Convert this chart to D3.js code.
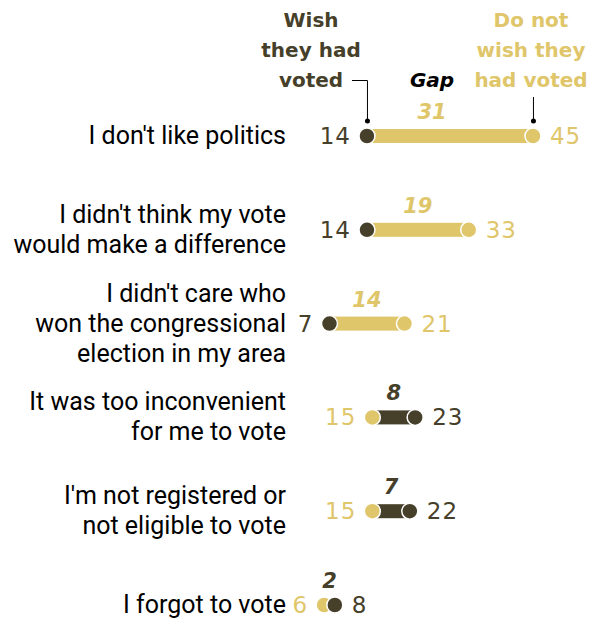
<!DOCTYPE html>
<html><head><meta charset="utf-8">
<script src="https://cdn.jsdelivr.net/npm/d3@7"></script>
<style>body{margin:0;background:#fff}svg{display:block}</style>
</head><body>
<script>
const reasons = [
  ["I don't like politics"],
  ["I didn't think my vote","would make a difference"],
  ["I didn't care who","won the congressional","election in my area"],
  ["It was too inconvenient","for me to vote"],
  ["I'm not registered or","not eligible to vote"],
  ["I forgot to vote"]
];
const wishVoted = [14, 14, 7, 23, 22, 8];
const notWishVoted = [45, 33, 21, 15, 15, 6];
const seriesNames = [["Wish","they had","voted"],["Do not","wish they","had voted"]];

const W = 596, H = 620;
const dark = "#463f2a", gold = "#dfc66a";
const labelFont = "Roboto, sans-serif";
const font = "'DejaVu Sans', sans-serif";
const svg = d3.select("body").append("svg").attr("width", W).attr("height", H);

const x = d3.scaleLinear().domain([0, 31]).range([292, 458]);
const y = d3.scalePoint().domain(d3.range(reasons.length)).range([136, 605]);
const r = 8;
const gapX = 432;

// header
const hdr = svg.append("g").attr("font-family", font).attr("font-weight", "bold").attr("font-size", 20).attr("text-anchor", "middle");
seriesNames[0].forEach((t, i) => hdr.append("text").attr("x", 311).attr("y", 27 + i * 30).attr("fill", dark).text(t));
seriesNames[1].forEach((t, i) => hdr.append("text").attr("x", 531).attr("y", 27 + i * 30).attr("fill", gold).text(t));
svg.append("text").attr("x", gapX).attr("y", 87).attr("font-family", font).attr("font-style", "italic").attr("font-weight", "bold")
  .attr("font-size", 20).attr("text-anchor", "middle").attr("fill", "#000").text("Gap");

// leader lines
const x0 = x(wishVoted[0]), x1 = x(notWishVoted[0]);
svg.append("path").attr("d", `M${x0 - 15},80.5H${x0 + 0.5}V121`).attr("fill", "none").attr("stroke", "#000").attr("stroke-width", 1);
svg.append("path").attr("d", `M${x1 + 0.5},97V121`).attr("fill", "none").attr("stroke", "#000").attr("stroke-width", 1);
svg.append("circle").attr("cx", x0 + 0.5).attr("cy", 121).attr("r", 2.5).attr("fill", "#000");
svg.append("circle").attr("cx", x1 + 0.5).attr("cy", 121).attr("r", 2.5).attr("fill", "#000");

reasons.forEach((lines, i) => {
  const cy = y(i);
  const a = wishVoted[i], b = notWishVoted[i];
  const g = svg.append("g");
  const n = lines.length;
  lines.forEach((t, j) => {
    g.append("text").attr("x", 286).attr("y", cy + 8 + (j - (n - 1) / 2) * 30)
      .attr("text-anchor", "end").attr("font-family", labelFont).attr("font-size", 25).attr("fill", "#000").text(t);
  });
  const lo = Math.min(a, b), hi = Math.max(a, b);
  const barColor = b > a ? gold : dark;
  g.append("rect").attr("x", x(lo)).attr("y", cy - 7).attr("width", x(hi) - x(lo)).attr("height", 14).attr("fill", barColor);
  g.append("text").attr("x", i === 0 ? gapX : (x(lo) + x(hi)) / 2).attr("y", cy - 17).attr("text-anchor", "middle")
    .attr("font-family", font).attr("font-style", "italic").attr("font-weight", "bold").attr("font-size", 21)
    .attr("fill", barColor).text(hi - lo);
  const pts = [{v: a, c: dark}, {v: b, c: gold}].sort((p, q) => p.v - q.v);
  pts.forEach(p => g.append("circle").attr("cx", x(p.v)).attr("cy", cy).attr("r", r).attr("fill", p.c).attr("stroke", "#fff").attr("stroke-width", 1.5));
  g.append("text").attr("x", x(pts[0].v) - 16).attr("y", cy + 8).attr("text-anchor", "end")
    .attr("font-family", font).attr("font-size", 23).attr("letter-spacing", 1).attr("fill", pts[0].c).text(pts[0].v);
  g.append("text").attr("x", x(pts[1].v) + 17).attr("y", cy + 8).attr("text-anchor", "start")
    .attr("font-family", font).attr("font-size", 23).attr("letter-spacing", 1).attr("fill", pts[1].c).text(pts[1].v);
});
</script>
</body></html>
